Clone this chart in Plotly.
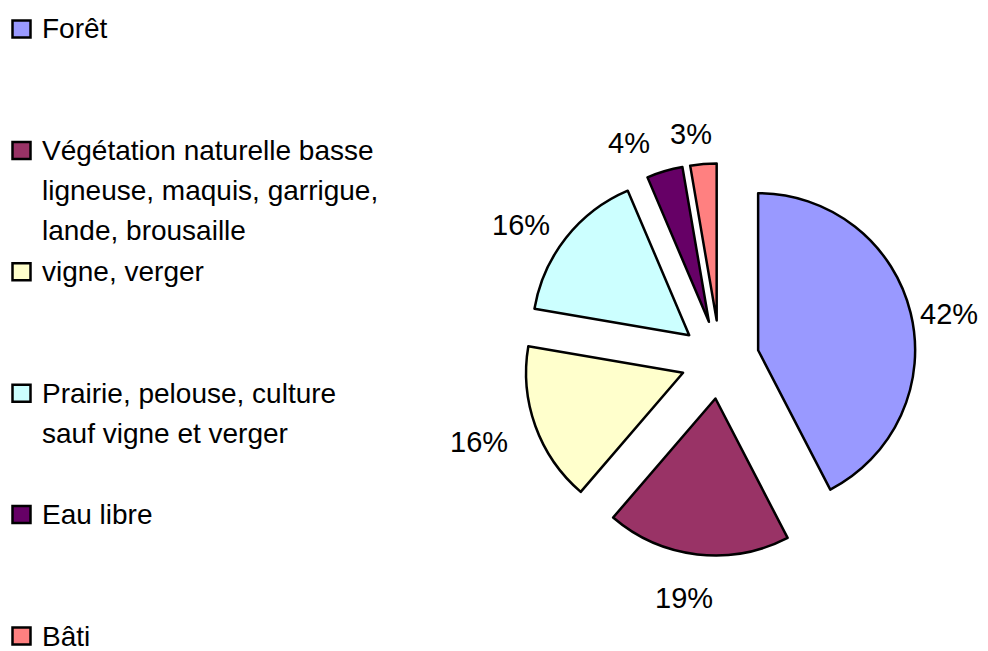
import math
import plotly.graph_objects as go

# Land-cover shares (percent)
categories = [
    "Forêt",
    "Végétation naturelle basse<br>ligneuse, maquis, garrigue,<br>lande, brousaille",
    "vigne, verger",
    "Prairie, pelouse, culture<br>sauf vigne et verger",
    "Eau libre",
    "Bâti",
]
shares = [42.4, 18.9, 16.4, 15.9, 3.7, 2.7]
colors = ["#9999FF", "#993366", "#FFFFCC", "#CCFFFF", "#660066", "#FF8080"]

W, H = 988, 651
FONT = "Liberation Sans, Arial, sans-serif"
LABEL_SIZE = 29
LEGEND_SIZE = 28
PULL = 0.25

# pie box in pixels (left, top, right, bottom)
BOX = (523.75, 163.25, 916.25, 555.75)


def px_x(x):
    return x / W


def px_y(y):
    return 1 - y / H


fig = go.Figure()
fig.add_trace(
    go.Pie(
        labels=[c.replace("<br>", " ") for c in categories],
        values=shares,
        sort=False,
        direction="clockwise",
        rotation=0,
        pull=[PULL] * len(shares),
        marker=dict(colors=colors, line=dict(color="black", width=2.5)),
        textinfo="none",
        showlegend=False,
        hoverinfo="label+percent",
        domain=dict(x=[px_x(BOX[0]), px_x(BOX[2])], y=[px_y(BOX[3]), px_y(BOX[1])]),
    )
)

# Percentage labels placed just outside each exploded slice, along its bisector
cx, cy = (BOX[0] + BOX[2]) / 2, (BOX[1] + BOX[3]) / 2
radius = (BOX[2] - BOX[0]) / 2 / (1 + PULL)
outer = radius * (1 + PULL)
gap = 22
nudge_x, nudge_y = -10, 7  # text box padding offset
min_sep = 20  # horizontal spacing kept between neighbouring labels
total = sum(shares)
labels = []
start = 0.0
for s in shares:
    mid = (start + s / 2) / total * 2 * math.pi
    start += s
    txt = f"{round(100 * s / total)}%"
    w = (0.556 * (len(txt) - 1) + 0.889) * LABEL_SIZE
    h = LABEL_SIZE * 1.05
    sx, sy = math.sin(mid), -math.cos(mid)
    lx = cx + (outer + gap + w / 2 * abs(sx)) * sx + nudge_x
    ly = cy + (outer + gap + h / 2 * abs(sy)) * sy + nudge_y
    labels.append([txt, lx, ly, w, h])

# push a label left when it crowds the next one (small slices near the top)
for k in range(len(labels) - 2, -1, -1):
    a, b = labels[k], labels[k + 1]
    if abs(a[2] - b[2]) < (a[4] + b[4]) / 2:
        room = (b[1] - b[3] / 2) - (a[1] + a[3] / 2)
        if room < min_sep and a[1] < b[1]:
            a[1] -= min_sep - room

annotations = [
    dict(
        xref="paper", yref="paper", x=px_x(lx), y=px_y(ly),
        xanchor="center", yanchor="middle", showarrow=False, text=txt,
        font=dict(family=FONT, size=LABEL_SIZE, color="black"),
    )
    for txt, lx, ly, _, _ in labels
]

# Hand-laid legend: equally spaced entries, wrapped labels
shapes = []
entry_pitch, line_pitch, first_y = 121.4, 40, 29
for i, (name, col) in enumerate(zip(categories, colors)):
    y0 = first_y + entry_pitch * i
    shapes.append(dict(
        type="rect", xref="paper", yref="paper",
        x0=px_x(12.5), x1=px_x(30.5), y0=px_y(y0 - 8.5), y1=px_y(y0 + 8.5),
        fillcolor=col, line=dict(color="black", width=2.5),
    ))
    for j, line in enumerate(name.split("<br>")):
        annotations.append(dict(
            xref="paper", yref="paper", x=px_x(40), y=px_y(y0 + j * line_pitch),
            xanchor="left", yanchor="middle", showarrow=False, text=line,
            font=dict(family=FONT, size=LEGEND_SIZE, color="black"),
        ))

fig.update_layout(
    width=W, height=H,
    margin=dict(l=0, r=0, t=0, b=0, autoexpand=False),
    paper_bgcolor="white", plot_bgcolor="white",
    shapes=shapes, annotations=annotations,
)

fig.write_html("out.html")
